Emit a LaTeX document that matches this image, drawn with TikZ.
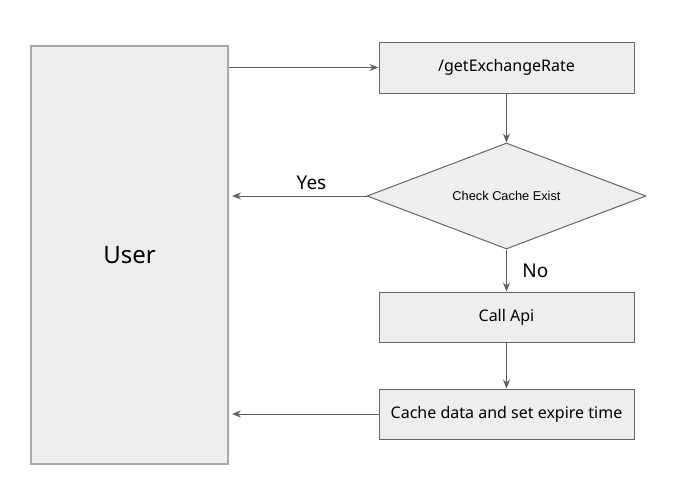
\documentclass[tikz,border=0pt]{standalone}
\usepackage{fontspec}
\setmainfont{Noto Sans}
\newfontfamily\arialfont{Liberation Sans}
\usetikzlibrary{shapes.geometric,arrows.meta}
\definecolor{boxfill}{HTML}{EEEEEE}
\definecolor{boxline}{HTML}{666666}
\definecolor{userline}{HTML}{A8A8A8}
\definecolor{arrowgray}{HTML}{5F5F5F}

\begin{document}
\begin{tikzpicture}[x=1pt,y=-1pt,
    stepbox/.style={draw=boxline, fill=boxfill, line width=1pt, inner sep=0pt,
      minimum width=255pt, minimum height=50pt, font=\fontsize{16}{19}\selectfont},
    decision/.style={diamond, draw=boxline, fill=boxfill, line width=1pt, inner sep=0pt,
      aspect=2.63, minimum width=279pt, minimum height=106pt,
      font=\arialfont\fontsize{12.8}{15}\selectfont},
    answer/.style={font=\fontsize{19}{22}\selectfont},
    arr/.style={draw=arrowgray, line width=1pt, -{Stealth[length=9pt,width=7pt]}}]
  \useasboundingbox (0,0) rectangle (681,493);

  \node (user) [draw=userline, fill=boxfill, line width=2pt, inner sep=0pt,
    minimum width=197pt, minimum height=418pt, font=\fontsize{24}{28}\selectfont]
    at (129.5,255) {\raisebox{-2pt}{User}};
  \node (getrate) [stepbox, minimum height=51pt] at (506.5,67.5) {/getExchangeRate};
  \node (check) [decision] at (506.5,196) {Check Cache Exist};
  \node (callapi) [stepbox] at (506.5,317) {Call Api};
  \node (cachedata) [stepbox] at (506.5,414) {Cache data and set expire time};

  \draw[arr] (user.east |- getrate.west) -- (getrate.west);
  \draw[arr] (getrate) -- (check);
  \draw[arr, shorten >=3pt] (check.west) -- node[answer, pos=0.4, above=2pt] {Yes} (check.west -| user.east);
  \draw[arr] (check) -- node[answer, right=12pt] {No} (callapi);
  \draw[arr] (callapi) -- (cachedata);
  \draw[arr, shorten >=3pt] (cachedata.west) -- (cachedata.west -| user.east);
\end{tikzpicture}
\end{document}
